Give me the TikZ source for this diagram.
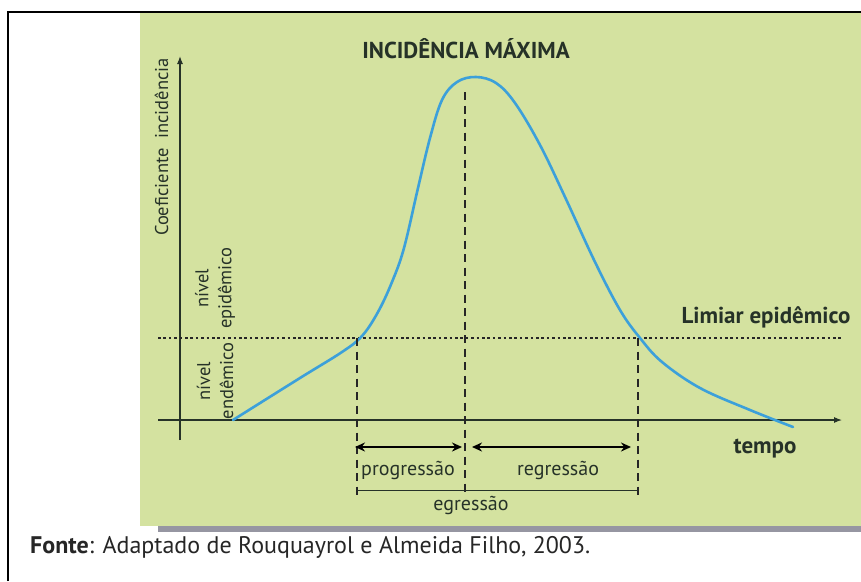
\documentclass[tikz,border=0pt]{standalone}
\usepackage{fontspec}
\setmainfont{PT Sans}
\usetikzlibrary{arrows.meta}
\definecolor{fundoVerde}{RGB}{212,226,160}
\definecolor{curvaAzul}{RGB}{60,160,218}
\definecolor{textoEscuro}{RGB}{38,50,40}
\definecolor{sombraCinza}{RGB}{150,150,162}

\begin{document}
\begin{tikzpicture}
[x=1pt,y=-1pt,%
  axisDecorate/.style={-{Latex[length=8pt,width=6pt]},line width=1.1pt,draw=textoEscuro},%
  limiarDecorate/.style={line width=2.6pt,dash pattern=on 2.6pt off 2.8pt,draw=black!85},%
  dashDecorate/.style={line width=1.9pt,dash pattern=on 8pt off 5.5pt,draw=black!85},%
  arrowDecorate/.style={{Stealth[length=10pt,width=9pt]}-{Stealth[length=10pt,width=9pt]},line width=2.2pt},%
  labelDecorate/.style={text=textoEscuro,font=\fontsize{20}{22}\selectfont,inner sep=0pt},%
  sideDecorate/.style={text=textoEscuro,font=\fontsize{18.5}{23}\selectfont,inner sep=0pt,rotate=90,align=center},%
  titleDecorate/.style={text=textoEscuro,font=\fontsize{23}{25}\selectfont\bfseries,inner sep=0pt}]
\useasboundingbox (0,0) rectangle (861,581);
%% frame and background
\fill[white] (0,0) rectangle (861,581);
\fill[sombraCinza] (158,520) rectangle (861,532);
\fill[fundoVerde] (140,13) rectangle (861,526);
\draw[line width=2pt] (8,581) -- (8,12) -- (861,12);
%% axes
\coordinate (yBase) at (180,440);
\coordinate (yTopo) at (180,56);
\coordinate (xInicio) at (158,420);
\coordinate (xFim) at (842,420);
\coordinate (limInicio) at (158,338);
\coordinate (limFim) at (842,338);
\draw[axisDecorate] (yBase) -- (yTopo);
\draw[axisDecorate] (xInicio) -- (xFim);
\draw[limiarDecorate] (limInicio) -- (limFim);
%% curve
\draw[curvaAzul,line width=2.6pt,line cap=round] plot[smooth,tension=0.6] coordinates
  {(233,420) (300,378) (342,352) (362,336) (378,312) (392,282) (404,248)
   (418,188) (430,138) (442,100) (457,82) (476,77) (496,83) (515,103)
   (540,145) (565,197) (595,262) (620,310) (640,338) (662,362) (700,388)
   (750,410) (793,427)};
%% dashed lines
\foreach \nome/\x/\y in {esq/357/338, meio/465/92, dir/638/338}
{
  \coordinate (\nome Topo) at (\x,\y);
  \coordinate (\nome Base) at (\x,495);
  \draw[dashDecorate] (\nome Topo) -- (\nome Base);
}
%% arrows
\coordinate (progA) at (355,447);
\coordinate (progB) at (462,447);
\coordinate (regA) at (472,447);
\coordinate (regB) at (631,447);
\coordinate (egA) at (357,490);
\coordinate (egB) at (638,490);
\draw[arrowDecorate] (progA) -- (progB);
\draw[arrowDecorate] (regA) -- (regB);
\draw[line width=1pt,draw=textoEscuro] (egA) -- (egB);
%% labels
\node[titleDecorate,anchor=base] (titulo) at (466,58) {INCIDÊNCIA MÁXIMA};
\node[titleDecorate,anchor=base] (limiar) at (766,323) {Limiar epidêmico};
\node[titleDecorate,anchor=base] (tempo) at (765,453) {tempo};
\node[labelDecorate,anchor=base] (prog) at (408,475) {progressão};
\node[labelDecorate,anchor=base] (reg) at (558,475) {regressão};
\node[labelDecorate,anchor=base] (eg) at (471,510) {egressão};
\node[sideDecorate,anchor=base] (coef) at (168,147) {Coeficiente\ \ incidência};
\node[sideDecorate] (epid) at (215,288) {nível\\epidêmico};
\node[sideDecorate] (endem) at (215,381) {nível\\endêmico};
\node[anchor=base west,inner sep=0pt,text=black!85,font=\fontsize{24}{26}\selectfont] (fonte)
  at (30,553) {\textbf{Fonte}: Adaptado de Rouquayrol e Almeida Filho, 2003.};
\end{tikzpicture}
\end{document}
